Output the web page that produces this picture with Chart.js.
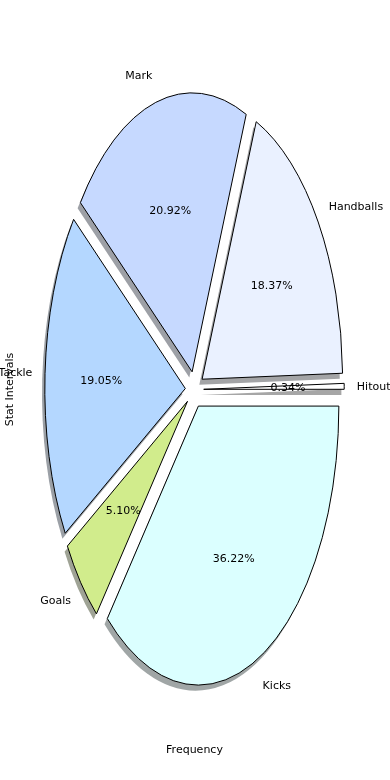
<!DOCTYPE html>
<html lang="en">
<head>
  <meta charset="UTF-8">
  <title>Stat Intervals pie</title>
  <script src="https://cdn.jsdelivr.net/npm/chart.js"></script>
  <style>
    body {
      margin: 0;
      background: #fff;
    }
    canvas {
      display: block;
    }
  </style>
</head>
<body>
  <canvas id="pieChart" width="390" height="780"></canvas>

  <script>
    // Data, in the order the slices go round (counter-clockwise from the right)
    const categories = ['Hitout', 'Handballs', 'Mark', 'Tackle', 'Goals', 'Kicks'];
    const values = [0.34, 18.37, 20.92, 19.05, 5.10, 36.22];
    const colors = ['#ffffff', '#eaf1ff', '#c6d9ff', '#b4d7ff', '#d1ec8c', '#dbffff'];
    const xTitle = 'Frequency';
    const yTitle = 'Stat Intervals';

    const FONT = '11px "DejaVu Sans", sans-serif';
    const TEXT_DY = 1;         // canvas 'middle' sits a bit high vs matplotlib
    const RX = 140.5;          // horizontal radius
    const K = 279 / 140.5;     // vertical stretch of the pie
    const EXPLODE = 9.2;       // pushed out along the middle of each wedge
    const SHADOW = [-2.8, 5.6];
    const LABEL_DIST_X = 1.09;
    const LABEL_DIST_Y = 1.1;
    const PCT_DIST = 0.6;

    // chart.js goes clockwise, so feed it reversed
    const cjLabels = categories.slice().reverse();
    const cjValues = values.slice().reverse();
    const cjColors = colors.slice().reverse();
    const total = values.reduce((a, b) => a + b, 0);

    function shadowColor(hex) {
      const n = parseInt(hex.slice(1), 16);
      const c = [(n >> 16) & 255, (n >> 8) & 255, n & 255].map(v => Math.round(0.5 * 0.3 * v + 127.5));
      return `rgb(${c[0]},${c[1]},${c[2]})`;
    }

    function stretch(ctx, a) {
      const mid = (a.startAngle + a.endAngle) / 2;
      ctx.translate(a.x, a.y);
      ctx.scale(1, K);
      ctx.translate(-a.x, -a.y);
      ctx.translate(Math.cos(mid) * EXPLODE, Math.sin(mid) * EXPLODE);
    }

    function wedgePath(ctx, a) {
      ctx.beginPath();
      ctx.moveTo(a.x, a.y);
      ctx.arc(a.x, a.y, a.outerRadius, a.startAngle, a.endAngle);
      ctx.closePath();
    }

    const stretchedPie = {
      id: 'stretchedPie',
      beforeDatasetDraw(chart, args) {
        const ctx = chart.ctx;
        const arcs = args.meta.data;

        // shadows underneath everything
        arcs.forEach((a, i) => {
          ctx.save();
          ctx.translate(SHADOW[0], SHADOW[1]);
          stretch(ctx, a);
          wedgePath(ctx, a);
          ctx.fillStyle = shadowColor(cjColors[i]);
          ctx.fill();
          ctx.restore();
        });

        // wedges, then outline stroked without the stretch so the line stays thin
        arcs.forEach(a => {
          ctx.save();
          stretch(ctx, a);
          a.draw(ctx);
          wedgePath(ctx, a);
          ctx.restore();
          ctx.save();
          ctx.lineWidth = 1;
          ctx.strokeStyle = '#000';
          ctx.stroke();
          ctx.restore();
        });
        return false;
      },
      afterDatasetsDraw(chart) {
        const ctx = chart.ctx;
        const arcs = chart.getDatasetMeta(0).data;
        ctx.save();
        ctx.font = FONT;
        ctx.fillStyle = '#000';
        ctx.textBaseline = 'middle';
        arcs.forEach((a, i) => {
          const mid = (a.startAngle + a.endAngle) / 2;
          const cx = a.x + Math.cos(mid) * EXPLODE;
          const cy = a.y + Math.sin(mid) * EXPLODE * K + TEXT_DY;
          ctx.textAlign = 'center';
          ctx.fillText((cjValues[i] / total * 100).toFixed(2) + '%',
            cx + Math.cos(mid) * PCT_DIST * a.outerRadius,
            cy + Math.sin(mid) * PCT_DIST * a.outerRadius * K);
          const lx = cx + Math.cos(mid) * LABEL_DIST_X * a.outerRadius;
          ctx.textAlign = Math.cos(mid) > 0 ? 'left' : 'right';
          ctx.fillText(cjLabels[i], lx, cy + Math.sin(mid) * LABEL_DIST_Y * a.outerRadius * K);
        });

        // axis titles
        ctx.textAlign = 'center';
        ctx.fillText(xTitle, 194.5, 749 + TEXT_DY);
        ctx.translate(10, 389.5);
        ctx.rotate(-Math.PI / 2);
        ctx.fillText(yTitle, 0, 0);
        ctx.restore();
      }
    };

    new Chart(document.getElementById('pieChart'), {
      type: 'pie',
      data: {
        labels: cjLabels,
        datasets: [{
          data: cjValues,
          backgroundColor: cjColors,
          borderWidth: 0,
          clip: false
        }]
      },
      options: {
        responsive: false,
        animation: false,
        rotation: 90,
        radius: RX,
        layout: { padding: { left: 0, right: 1, top: 0, bottom: 1 } },
        plugins: {
          legend: { display: false },
          tooltip: { enabled: false }
        }
      },
      plugins: [stretchedPie]
    });
  </script>
</body>
</html>
